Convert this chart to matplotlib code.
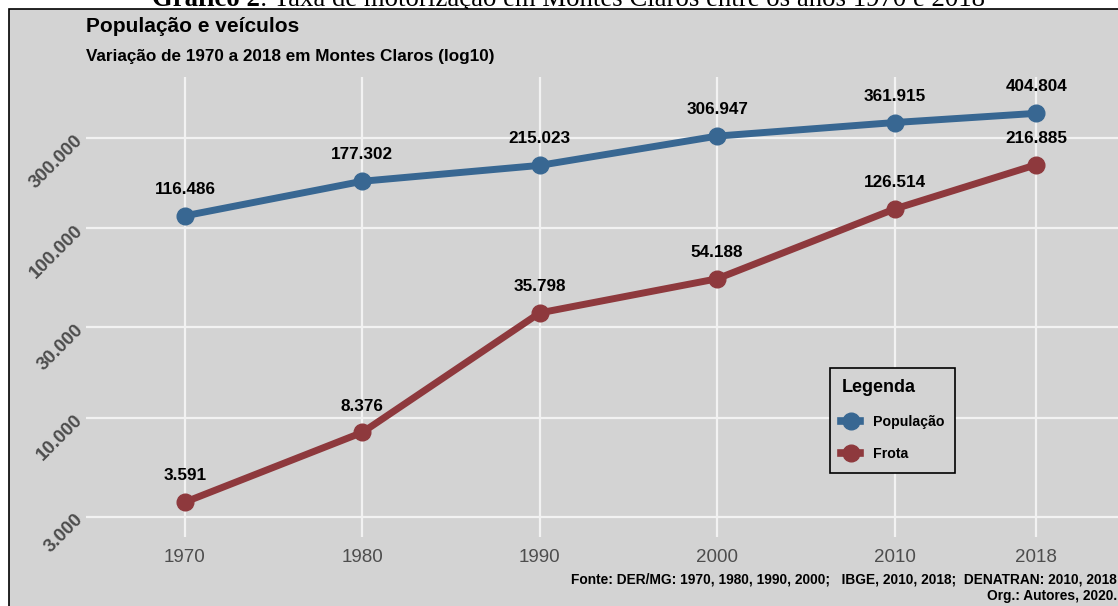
import matplotlib.pyplot as plt
import numpy as np
from matplotlib.lines import Line2D
from matplotlib.patches import Rectangle
from matplotlib.ticker import FixedLocator, FixedFormatter, NullLocator

plt.rcParams['font.family'] = ['Liberation Sans', 'DejaVu Sans']

anos = [1970, 1980, 1990, 2000, 2010, 2018]
populacao = [116486, 177302, 215023, 306947, 361915, 404804]
frota = [3591, 8376, 35798, 54188, 126514, 216885]
y_ticks = [3000, 10000, 30000, 100000, 300000]
y_labels = ['3.000', '10.000', '30.000', '100.000', '300.000']

cor_pop = '#386792'
cor_frota = '#8e393d'
fundo = '#d3d3d3'
W, H = 1118, 606


def fmt(v):
    return f'{v:,}'.replace(',', '.')


fig = plt.figure(figsize=(W / 100, H / 100), dpi=100)
fig.patch.set_facecolor('white')

# painel cinza com borda
fig.patches.append(Rectangle((9 / W, -0.01), 1.0, 1 - 9 / H + 0.01, transform=fig.transFigure,
                             facecolor=fundo, edgecolor='black', linewidth=1.2, zorder=-5))

# legenda do documento, cortada no topo
t1 = fig.text(152 / W, 1 - 6 / H, 'Gráfico 2', family='Liberation Serif', fontsize=19.3,
              fontweight='bold', va='baseline', ha='left', zorder=-10)
fig.canvas.draw()
bb = t1.get_window_extent()
fig.text(bb.x1 / W, 1 - 6 / H, ': Taxa de motorização em Montes Claros entre os anos 1970 e 2018',
         family='Liberation Serif', fontsize=19.3, va='baseline', ha='left', zorder=-10)

ax = fig.add_axes([86 / W, (H - 537) / H, (W - 86) / W, 460 / H])
ax.set_facecolor(fundo)
ax.set_yscale('log')
ax.set_xlim(1964.42, 2022.6)
ax.set_ylim(10 ** 3.371, 10 ** 5.799)

ax.yaxis.set_major_locator(FixedLocator(y_ticks))
ax.yaxis.set_major_formatter(FixedFormatter(y_labels))
ax.yaxis.set_minor_locator(NullLocator())
ax.set_xticks(anos)
ax.set_xticklabels([str(a) for a in anos])

ax.grid(True, color='#f2f2f2', linewidth=1.6)
ax.set_axisbelow(True)
for s in ax.spines.values():
    s.set_visible(False)
ax.tick_params(axis='both', length=0)
ax.tick_params(axis='x', labelsize=13.5, labelcolor='#4d4d4d', pad=9)
ax.tick_params(axis='y', labelsize=13.5, labelcolor='#4d4d4d', pad=4)
for lab in ax.get_yticklabels():
    lab.set_rotation(45)
    lab.set_rotation_mode('anchor')
    lab.set_ha('right')
    lab.set_va('center')
    lab.set_fontweight('bold')

ax.plot(anos, populacao, color=cor_pop, linewidth=5, marker='o', markersize=12,
        solid_capstyle='round', zorder=3)
ax.plot(anos, frota, color=cor_frota, linewidth=5, marker='o', markersize=12,
        solid_capstyle='round', zorder=3)

for x, v in zip(anos, populacao):
    ax.annotate(fmt(v), (x, v), xytext=(0, 19), textcoords='offset points',
                ha='center', va='center', fontsize=12.3, fontweight='bold', color='black')
for x, v in zip(anos, frota):
    ax.annotate(fmt(v), (x, v), xytext=(0, 19), textcoords='offset points',
                ha='center', va='center', fontsize=12.3, fontweight='bold', color='black')

handles = [Line2D([], [], color=cor_pop, linewidth=5.5, marker='o', markersize=12),
           Line2D([], [], color=cor_frota, linewidth=5.5, marker='o', markersize=12)]
leg = ax.legend(handles, ['População', 'Frota'], title='Legenda', loc='upper left',
                bbox_to_anchor=((830 - 86) / (W - 86), 1 - (368 - 77) / 460),
                borderaxespad=0, frameon=True, fancybox=False, framealpha=1,
                facecolor=fundo, edgecolor='black', handlelength=1.3,
                prop={'weight': 'bold', 'size': 10.2},
                title_fontproperties={'weight': 'bold', 'size': 13},
                alignment='left', labelspacing=1.3, borderpad=0.8, handletextpad=0.9)
leg.get_frame().set_linewidth(1.2)

fig.text(86 / W, 1 - 27 / H, 'População e veículos', fontsize=15, fontweight='bold',
         va='center', ha='left')
fig.text(86 / W, 1 - 57 / H, 'Variação de 1970 a 2018 em Montes Claros (log10)', fontsize=12.3,
         fontweight='bold', va='center', ha='left')

fig.text(1117 / W, 1 - 580 / H,
         'Fonte: DER/MG: 1970, 1980, 1990, 2000;   IBGE, 2010, 2018;  DENATRAN: 2010, 2018',
         fontsize=9.9, fontweight='bold', va='center', ha='right')
fig.text(1117 / W, 1 - 596 / H, 'Org.: Autores, 2020.', fontsize=9.9, fontweight='bold',
         va='center', ha='right')

fig.savefig('out.png', dpi=100)
